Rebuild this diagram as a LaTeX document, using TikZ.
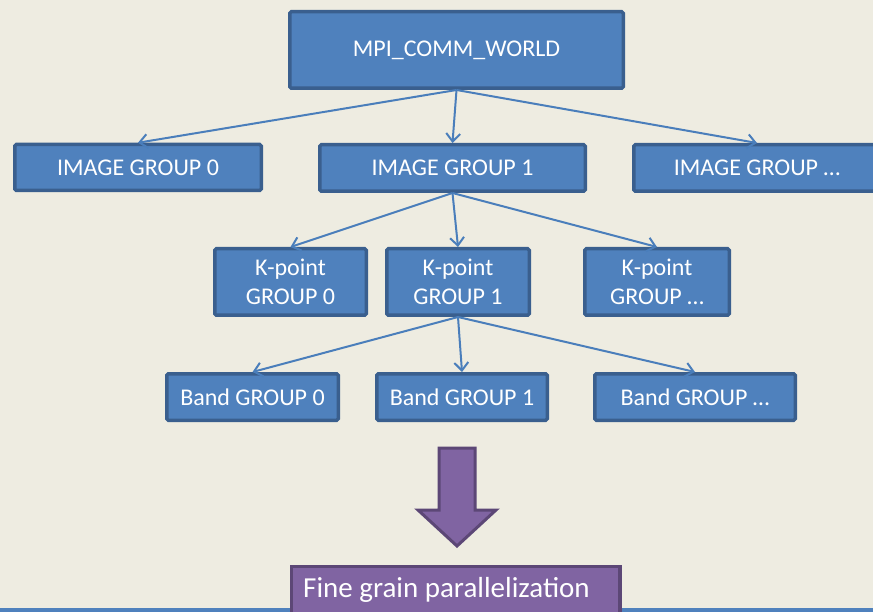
\documentclass[tikz,border=0pt]{standalone}
\usepackage{fontspec}
\setmainfont{Carlito}
\usetikzlibrary{arrows.meta}
\definecolor{bgc}{HTML}{EEECE1}
\definecolor{boxfill}{HTML}{4F81BD}
\definecolor{boxline}{HTML}{3A5F8E}
\definecolor{conn}{HTML}{4A7EBB}
\definecolor{purfill}{HTML}{8064A2}
\definecolor{purline}{HTML}{5C4776}
\tikzset{
  grp/.style={rectangle, rounded corners=1.5pt, fill=boxfill, draw=boxline, line width=3.5pt,
    text=white, font=\fontsize{24}{29}\selectfont, align=center, inner sep=0pt},
  conarrow/.style={draw=conn, line width=2pt, -{Straight Barb[length=8pt,width=14pt]}},
}
\begin{document}
\begin{tikzpicture}[x=1pt,y=-1pt]
\useasboundingbox (0,0) rectangle (873,612);
\clip (0,0) rectangle (873,612);
\fill[bgc] (0,0) rectangle (873,612);
\fill[boxfill] (0,608) rectangle (873,614);
% boxes
\node[grp, minimum width=333.5pt, minimum height=76.5pt] (mpi) at (456.5,50) {MPI\_COMM\_WORLD};
\node[grp, minimum width=246.5pt, minimum height=46pt] (ig0) at (138,167.5) {IMAGE GROUP 0};
\node[grp, minimum width=265.5pt, minimum height=46.5pt] (ig1) at (452.5,168) {IMAGE GROUP 1};
\node[grp, minimum width=246.5pt, minimum height=46.5pt] (ign) at (757,168) {IMAGE GROUP \dots};
\node[grp, minimum width=151.5pt, minimum height=66.5pt] (kp0) at (290.5,282) {K-point\\GROUP 0};
\node[grp, minimum width=142.5pt, minimum height=66.5pt] (kp1) at (458,282) {K-point\\GROUP 1};
\node[grp, minimum width=144.5pt, minimum height=66.5pt] (kpn) at (657,282) {K-point\\GROUP \dots};
\node[grp, minimum width=171.5pt, minimum height=46.5pt] (b0) at (252.5,397) {Band GROUP 0};
\node[grp, minimum width=170.5pt, minimum height=46.5pt] (b1) at (462,397) {Band GROUP 1};
\node[grp, minimum width=200.5pt, minimum height=46.5pt] (bn) at (695,397) {Band GROUP \dots};
% connectors
\draw[conarrow] (mpi.south) -- (ig0.north);
\draw[conarrow] (mpi.south) -- (ig1.north);
\draw[conarrow] (mpi.south) -- (ign.north);
\draw[conarrow] (ig1.south) -- (kp0.north);
\draw[conarrow] (ig1.south) -- (kp1.north);
\draw[conarrow] (ig1.south) -- (kpn.north);
\draw[conarrow] (kp1.south) -- (b0.north);
\draw[conarrow] (kp1.south) -- (b1.north);
\draw[conarrow] (kp1.south) -- (bn.north);
% block arrow
\draw[fill=purfill, draw=purline, line width=3pt, line join=miter]
  (439,448) -- (475,448) -- (475,510) -- (496,510) -- (457,546) -- (418,510) -- (439,510) -- cycle;
% fine grain box
\node[rectangle, fill=purfill, draw=purline, line width=3.5pt, minimum width=328.5pt,
  minimum height=66pt, anchor=north west, inner sep=0pt] (fine) at (289.75,564.75) {};
\node[anchor=west, text=white, font=\fontsize{29}{34}\selectfont, inner sep=0pt] (finet) at (303,590) {Fine grain parallelization};
\end{tikzpicture}
\end{document}
